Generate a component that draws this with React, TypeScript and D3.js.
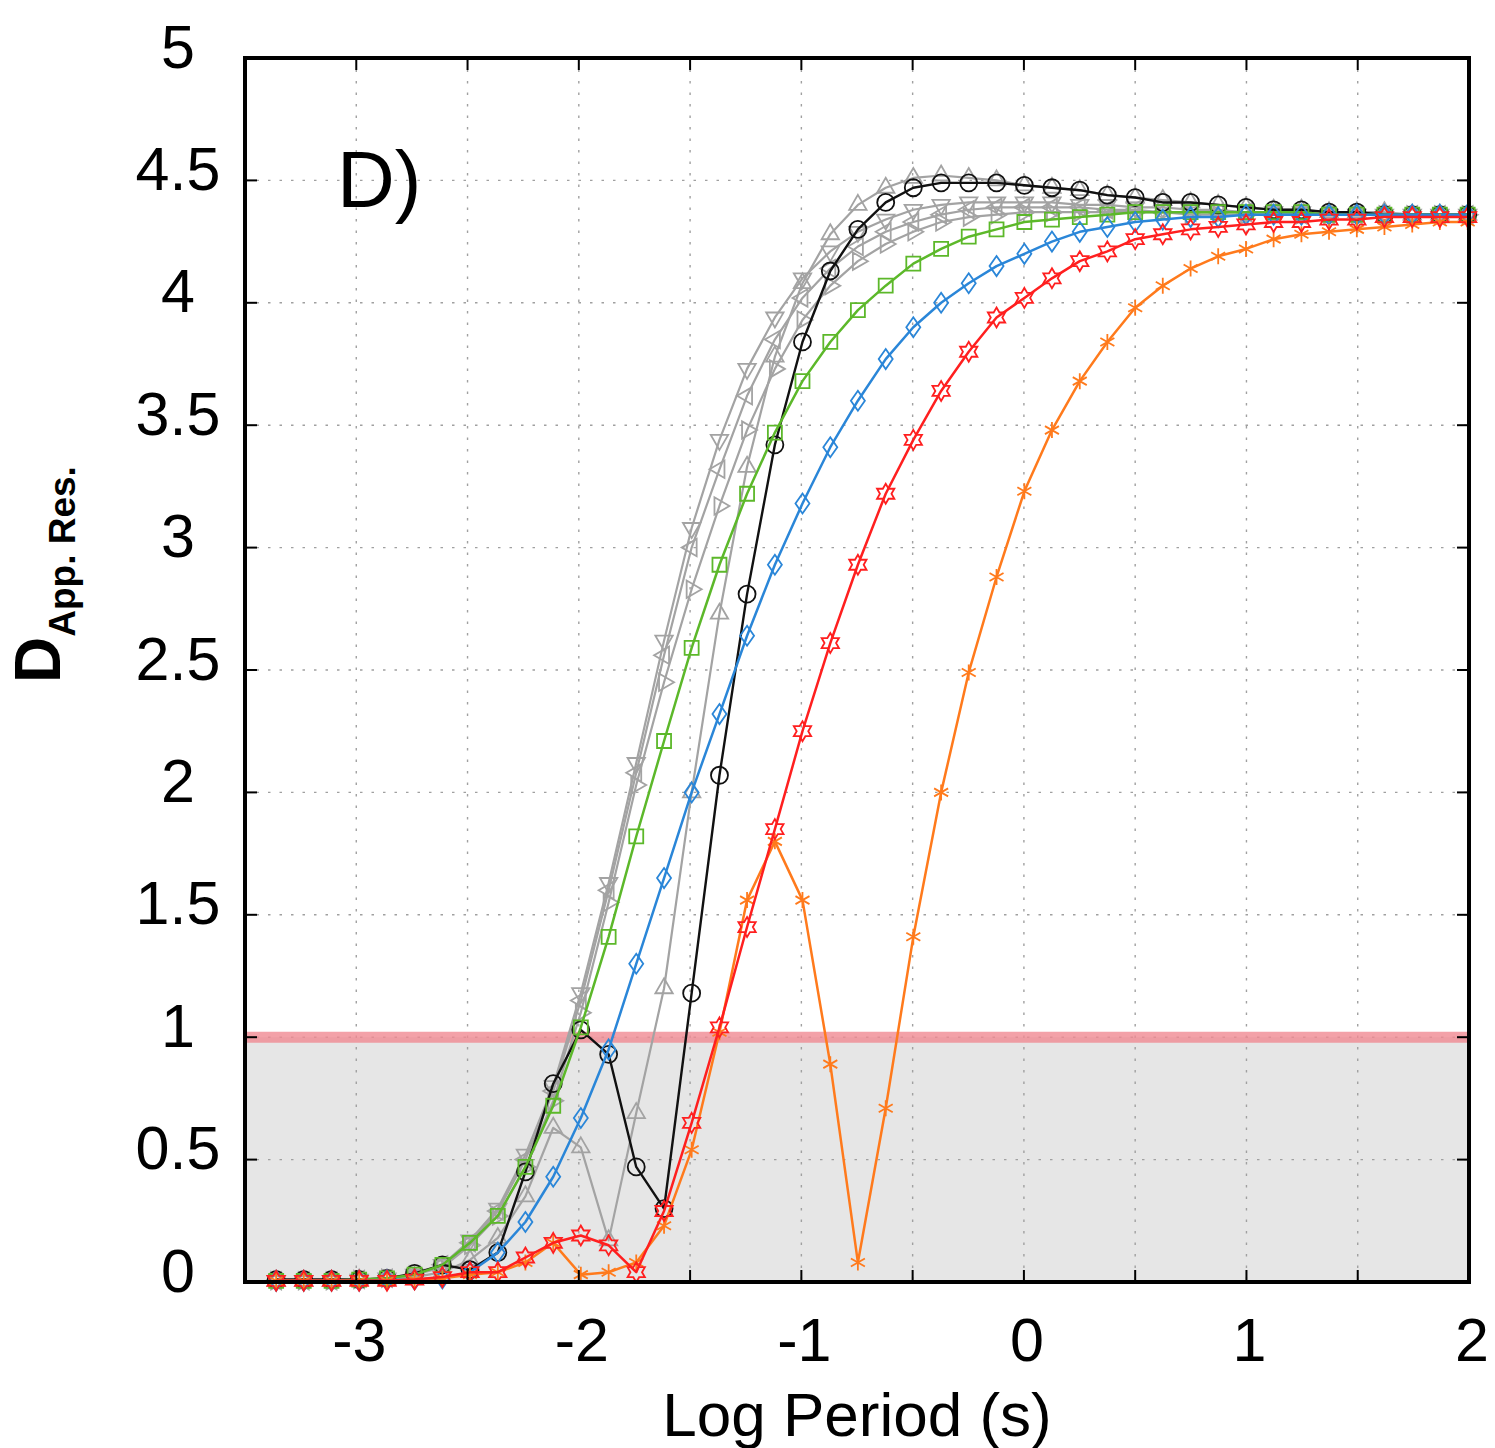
import React from "react";
import * as d3 from "d3";

// ---------- data ----------
const logPeriod = [
  -3.36, -3.236, -3.111, -2.987, -2.862, -2.738, -2.613, -2.489, -2.364, -2.24,
  -2.115, -1.991, -1.866, -1.742, -1.617, -1.493, -1.368, -1.244, -1.119, -0.995,
  -0.87, -0.746, -0.621, -0.497, -0.372, -0.248, -0.123, 0.002, 0.126, 0.251,
  0.375, 0.5, 0.624, 0.749, 0.873, 0.998, 1.122, 1.247, 1.371, 1.496,
  1.62, 1.745, 1.869, 1.994,
];

const blackCircle = [
  0.01, 0.01, 0.01, 0.01, 0.015, 0.035, 0.07, 0.05, 0.12, 0.45,
  0.81, 1.03, 0.93, 0.47, 0.3, 1.18, 2.07, 2.81, 3.42, 3.84,
  4.13, 4.3, 4.41, 4.47, 4.49, 4.49, 4.49, 4.48, 4.47, 4.46,
  4.44, 4.43, 4.41, 4.41, 4.4, 4.39, 4.38, 4.38, 4.37, 4.37,
  4.36, 4.36, 4.36, 4.36,
];

const greenSquare = [
  0.005, 0.005, 0.005, 0.01, 0.015, 0.03, 0.07, 0.16, 0.27, 0.47,
  0.72, 1.04, 1.41, 1.82, 2.21, 2.59, 2.93, 3.22, 3.47, 3.68,
  3.84, 3.97, 4.07, 4.16, 4.22, 4.27, 4.3, 4.33, 4.34, 4.35,
  4.36, 4.37, 4.37, 4.37, 4.37, 4.37, 4.37, 4.37, 4.36, 4.36,
  4.36, 4.36, 4.36, 4.36,
];

const blueDiamond = [
  0.005, 0.005, 0.005, 0.005, 0.008, 0.01, 0.015, 0.04, 0.12, 0.245,
  0.43, 0.67, 0.95, 1.3, 1.65, 2.0, 2.32, 2.64, 2.93, 3.18,
  3.41, 3.6, 3.77, 3.9, 4.0, 4.08, 4.15, 4.2, 4.25, 4.29,
  4.31, 4.33, 4.34, 4.35, 4.35, 4.36, 4.36, 4.36, 4.36, 4.36,
  4.36, 4.36, 4.36, 4.36,
];

const redHexagram = [
  0.005, 0.005, 0.005, 0.005, 0.005, 0.01, 0.02, 0.04, 0.04, 0.1,
  0.16, 0.19, 0.15, 0.04, 0.29, 0.65, 1.04, 1.45, 1.85, 2.25,
  2.61, 2.93, 3.22, 3.44, 3.64, 3.8, 3.94, 4.02, 4.1, 4.17,
  4.21, 4.26, 4.28, 4.3, 4.31, 4.32, 4.33, 4.33, 4.34, 4.34,
  4.35, 4.35, 4.35, 4.35,
];

const orangeAsterisk = [
  0.005, 0.005, 0.005, 0.005, 0.005, 0.01, 0.015, 0.03, 0.04, 0.08,
  0.16, 0.03, 0.04, 0.08, 0.23, 0.54, 1.02, 1.56, 1.8, 1.56,
  0.89, 0.08, 0.71, 1.41, 2.0, 2.49, 2.88, 3.23, 3.48, 3.68,
  3.84, 3.98, 4.07, 4.14, 4.19, 4.22, 4.26, 4.28, 4.29, 4.3,
  4.31, 4.32, 4.33, 4.33,
];

const grayDown = [
  0.005, 0.005, 0.005, 0.01, 0.015, 0.03, 0.07, 0.17, 0.3, 0.52,
  0.8, 1.18, 1.63, 2.12, 2.62, 3.08, 3.44, 3.73, 3.94, 4.1,
  4.21, 4.29, 4.34, 4.38, 4.4, 4.41, 4.41, 4.41, 4.41, 4.4,
  4.4, 4.39, 4.39, 4.38, 4.38, 4.37, 4.37, 4.37, 4.36, 4.36,
  4.36, 4.36, 4.36, 4.36,
];

const grayLeft = [
  0.005, 0.005, 0.005, 0.01, 0.015, 0.03, 0.07, 0.16, 0.29, 0.5,
  0.78, 1.15, 1.6, 2.08, 2.56, 3.0, 3.32, 3.62, 3.85, 4.02,
  4.14, 4.23, 4.29, 4.33, 4.36, 4.38, 4.39, 4.39, 4.39, 4.39,
  4.38, 4.38, 4.37, 4.37, 4.37, 4.37, 4.37, 4.36, 4.36, 4.36,
  4.36, 4.36, 4.36, 4.36,
];

const grayRight = [
  0.005, 0.005, 0.005, 0.01, 0.015, 0.03, 0.06, 0.15, 0.27, 0.47,
  0.74, 1.1, 1.55, 2.03, 2.45, 2.83, 3.17, 3.48, 3.73, 3.93,
  4.07, 4.17, 4.24, 4.29, 4.33, 4.35, 4.36, 4.37, 4.37, 4.37,
  4.37, 4.37, 4.37, 4.36, 4.36, 4.36, 4.36, 4.36, 4.36, 4.36,
  4.36, 4.36, 4.36, 4.36,
];

const grayUp = [
  0.005, 0.005, 0.005, 0.01, 0.01, 0.02, 0.04, 0.09, 0.18, 0.35,
  0.63, 0.55, 0.17, 0.69, 1.2, 2.0, 2.73, 3.33, 3.78, 4.08,
  4.28, 4.4, 4.47, 4.51, 4.52, 4.51, 4.5, 4.48, 4.47, 4.46,
  4.44, 4.43, 4.42, 4.41, 4.4, 4.39, 4.38, 4.38, 4.37, 4.37,
  4.37, 4.36, 4.36, 4.36,
];

const xGridValues = [-3, -2.5, -2, -1.5, -1, -0.5, 0, 0.5, 1, 1.5];
const xTickLabels = [-3, -2, -1, 0, 1, 2];
const yTickValues = [0, 0.5, 1, 1.5, 2, 2.5, 3, 3.5, 4, 4.5, 5];
const thresholdValue = 1;

// ---------- layout ----------
const W = 1495;
const H = 1448;
const L = 245;
const R = 1469;
const T = 58;
const B = 1282;
const FONT = "'Liberation Sans', Arial, Helvetica, sans-serif";

const x = d3.scaleLinear().domain([-3.5, 2]).range([L, R]);
const y = d3.scaleLinear().domain([0, 5]).range([B, T]);

type Marker =
  | "circle" | "square" | "diamond" | "triUp" | "triDown" | "triLeft"
  | "triRight" | "hexagram" | "asterisk";

function markerPath(m: Marker): string {
  const p = d3.path();
  switch (m) {
    case "circle":
      p.moveTo(8.5, 0);
      p.arc(0, 0, 8.5, 0, Math.PI * 2);
      p.closePath();
      break;
    case "square":
      p.rect(-7, -7, 14, 14);
      break;
    case "diamond":
      p.moveTo(0, -10); p.lineTo(7, 0); p.lineTo(0, 10); p.lineTo(-7, 0); p.closePath();
      break;
    case "triUp":
      p.moveTo(0, -10); p.lineTo(8.7, 5); p.lineTo(-8.7, 5); p.closePath();
      break;
    case "triDown":
      p.moveTo(0, 10); p.lineTo(8.7, -5); p.lineTo(-8.7, -5); p.closePath();
      break;
    case "triLeft":
      p.moveTo(-10, 0); p.lineTo(5, -8.7); p.lineTo(5, 8.7); p.closePath();
      break;
    case "triRight":
      p.moveTo(10, 0); p.lineTo(-5, -8.7); p.lineTo(-5, 8.7); p.closePath();
      break;
    case "hexagram": {
      const Ro = 10, Ri = 10 / Math.sqrt(3);
      for (let i = 0; i < 12; i++) {
        const a = -Math.PI / 2 + (i * Math.PI) / 6;
        const rr = i % 2 === 0 ? Ro : Ri;
        const px = rr * Math.cos(a), py = rr * Math.sin(a);
        if (i === 0) p.moveTo(px, py); else p.lineTo(px, py);
      }
      p.closePath();
      break;
    }
    case "asterisk":
      p.moveTo(0, -8); p.lineTo(0, 8);
      p.moveTo(-7, -4); p.lineTo(7, 4);
      p.moveTo(-7, 4); p.lineTo(7, -4);
      break;
  }
  return p.toString();
}

const GRAY = "#a3a3a3";
const series: { values: number[]; color: string; marker: Marker; width: number }[] = [
  { values: grayDown, color: GRAY, marker: "triDown", width: 2.2 },
  { values: grayLeft, color: GRAY, marker: "triLeft", width: 2.2 },
  { values: grayRight, color: GRAY, marker: "triRight", width: 2.2 },
  { values: grayUp, color: GRAY, marker: "triUp", width: 2.2 },
  { values: blackCircle, color: "#111111", marker: "circle", width: 2.4 },
  { values: greenSquare, color: "#5cb82a", marker: "square", width: 2.5 },
  { values: blueDiamond, color: "#2a86d8", marker: "diamond", width: 2.5 },
  { values: orangeAsterisk, color: "#ff7a1c", marker: "asterisk", width: 2.5 },
  { values: redHexagram, color: "#ff1f1f", marker: "hexagram", width: 2.5 },
];

const line = d3
  .line<[number, number]>()
  .x((d) => x(d[0]))
  .y((d) => y(d[1]))
  .curve(d3.curveLinear);

export default function App() {
  const tickLen = 12;
  return (
    <svg
      width={W}
      height={H}
      viewBox={`0 0 ${W} ${H}`}
      style={{ position: "absolute", left: 0, top: 0, background: "#fff" }}
      fontFamily={FONT}
    >
      <rect x={0} y={0} width={W} height={H} fill="#fff" />
      {/* shaded region below threshold */}
      <rect x={L} y={y(thresholdValue)} width={R - L} height={B - y(thresholdValue)} fill="#e6e6e6" />

      {/* grid */}
      <g stroke="#a0a0a0" strokeWidth={1.4} strokeDasharray="2.5 9">
        {xGridValues.map((v) => (
          <line key={"gx" + v} x1={x(v)} x2={x(v)} y1={T} y2={B} />
        ))}
        {yTickValues.filter((v) => v > 0 && v < 5).map((v) => (
          <line key={"gy" + v} x1={L} x2={R} y1={y(v)} y2={y(v)} />
        ))}
      </g>

      {/* threshold line */}
      <line x1={L} x2={R} y1={y(thresholdValue)} y2={y(thresholdValue)} stroke="#f08a92" strokeOpacity={0.8} strokeWidth={11} />

      {/* series */}
      {series.map((s, i) => {
        const pts: [number, number][] = logPeriod.map((lp, k) => [lp, s.values[k]]);
        const d = markerPath(s.marker);
        return (
          <g key={"s" + i}>
            <path d={line(pts) || ""} fill="none" stroke={s.color} strokeWidth={s.width} strokeLinejoin="round" />
            {pts.map((p, k) => (
              <path
                key={k}
                d={d}
                transform={`translate(${x(p[0])},${y(p[1])})`}
                fill="none"
                stroke={s.color}
                strokeWidth={1.8}
              />
            ))}
          </g>
        );
      })}

      {/* ticks */}
      <g stroke="#000" strokeWidth={2}>
        {xGridValues.map((v) => (
          <g key={"tx" + v}>
            <line x1={x(v)} x2={x(v)} y1={B} y2={B - tickLen} />
            <line x1={x(v)} x2={x(v)} y1={T} y2={T + tickLen} />
          </g>
        ))}
        {yTickValues.map((v) => (
          <g key={"ty" + v}>
            <line x1={L} x2={L + tickLen} y1={y(v)} y2={y(v)} />
            <line x1={R} x2={R - tickLen} y1={y(v)} y2={y(v)} />
          </g>
        ))}
      </g>

      {/* frame */}
      <rect x={L} y={T} width={R - L} height={B - T} fill="none" stroke="#000" strokeWidth={4} />

      {/* tick labels */}
      <g fontSize={61} fill="#000" textAnchor="middle">
        {yTickValues.map((v) => (
          <text key={"ly" + v} x={178} y={y(v) + 9.5}>
            {String(v)}
          </text>
        ))}
        {xTickLabels.map((v) => (
          <text key={"lx" + v} x={x(v) + 3} y={1361}>
            {String(v)}
          </text>
        ))}
      </g>

      {/* axis titles */}
      <text x={(L + R) / 2} y={1436} fontSize={62} textAnchor="middle" fill="#000">
        Log Period (s)
      </text>
      <text transform="translate(60,683) rotate(-90)" fontWeight="bold" fill="#000">
        <tspan fontSize={64}>D</tspan>
        <tspan fontSize={37} dy={15}>App. Res.</tspan>
      </text>

      {/* panel label */}
      <text x={337} y={207} fontSize={80} fill="#000">
        D)
      </text>
    </svg>
  );
}
